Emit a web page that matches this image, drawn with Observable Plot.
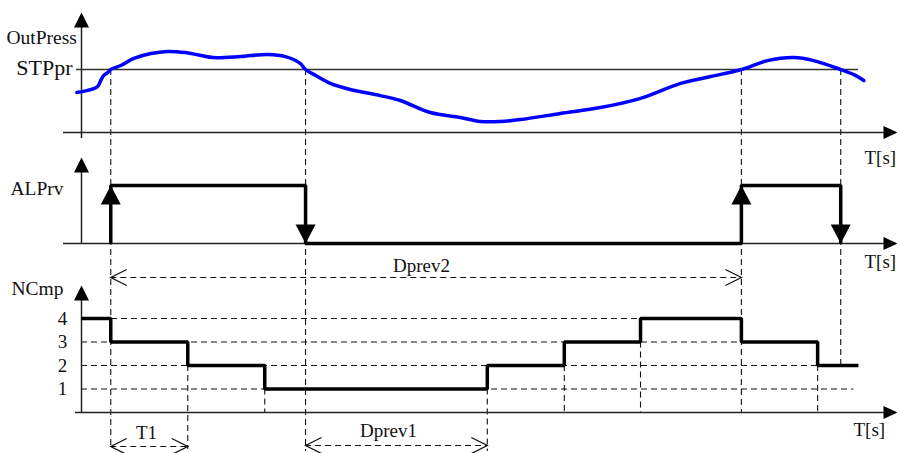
<!DOCTYPE html>
<html><head><meta charset="utf-8">
<script src="https://cdn.jsdelivr.net/npm/d3@7"></script>
<script src="https://cdn.jsdelivr.net/npm/@observablehq/plot@0.6"></script>
<style>html,body{margin:0;padding:0;background:#fff;overflow:hidden}</style>
</head><body><div id="chart"></div>
<script>
// ---------- data ----------
// OutPress curve (time, pressure in relative units)
const pressT = [-0.6, 0.8, 2.1, 2.5, 2.9, 3.4, 3.8, 5.1, 6.8, 9.0, 11.2, 13.5, 15.5, 17.1, 20.6, 24.2, 26.5, 28.4, 29.1, 30.4, 32.3, 34.9, 38.8, 41.4, 45.3, 49.2, 51.8, 54.4, 57.0, 62.2, 67.4, 72.6, 77.8, 81.7, 85.7, 89.1, 92.5, 95.1, 98.6, 100.5, 101.6];
const pressV = [1.70, 1.79, 1.96, 2.21, 2.43, 2.55, 2.68, 2.85, 3.15, 3.36, 3.45, 3.40, 3.28, 3.19, 3.23, 3.32, 3.23, 2.94, 2.68, 2.43, 2.09, 1.83, 1.57, 1.36, 0.85, 0.64, 0.47, 0.47, 0.55, 0.81, 1.06, 1.45, 2.09, 2.38, 2.68, 3.06, 3.19, 3.06, 2.68, 2.43, 2.21];
const STPpr = 2.68;
// ALPrv signal (step-after)
const alprvT = [3.8, 3.8, 29.1, 85.7, 98.6];
const alprvV = [0, 1, 0, 1, 0];
const alprvUp = [3.8, 85.7];
const alprvDown = [29.1, 98.6];
// NCmp compressor count (step-after)
const ncmpT = [0, 3.8, 13.8, 23.8, 52.7, 62.7, 72.6, 85.7, 95.6, 100.9];
const ncmpV = [4, 3, 2, 1, 2, 3, 4, 3, 2, 2];
const ncmpTicks = [1, 2, 3, 4];
const ncmpGridEnd = [100.3, 100.9, 95.6, 85.7];
// intervals
const intervalLabels = ["Dprev2", "T1", "Dprev1"];
const intervalStart = [3.8, 3.8, 29.1];
const intervalEnd = [85.7, 13.8, 52.7];
// labels
const panelLabels = ["OutPress", "STPpr", "ALPrv", "NCmp"];
const axisLabel = "T[s]";

// ---------- layout (pixel -> scale units) ----------
const KX = 7.7, KY = 23.5;
const tx = px => (px - 81) / KX;
const ty = py => (412 - py) / KY;
const P0 = ty(132);          // OutPress baseline
const A0 = ty(243);          // ALPrv baseline
const AH = ty(185) - A0;     // ALPrv high level
const N0 = 0;                // NCmp baseline

const press = pressT.map((t, i) => ({t, v: P0 + pressV[i]}));
const alprv = alprvT.map((t, i) => ({t, v: A0 + alprvV[i] * AH}));
const ncmp = ncmpT.map((t, i) => ({t, v: N0 + ncmpV[i]}));
const grid = ncmpTicks.map((l, i) => ({l, end: ncmpGridEnd[i]}));
const STPy = P0 + STPpr;

const events = [
  {t: 3.8, y1: STPy, y2: ty(449)},
  {t: 13.8, y1: 2, y2: ty(449)},
  {t: 23.8, y1: 1, y2: 0},
  {t: 29.1, y1: STPy, y2: ty(451)},
  {t: 52.7, y1: 1, y2: ty(451)},
  {t: 62.7, y1: 2, y2: 0},
  {t: 72.6, y1: 3, y2: 0},
  {t: 85.7, y1: STPy, y2: 0},
  {t: 95.6, y1: 2, y2: 0},
  {t: 98.6, y1: STPy, y2: 2}
];
const dimY = [ty(277), ty(446), ty(445)];
const dimLabelPos = [[tx(421), ty(265)], [tx(146), ty(432)], [tx(388), ty(430)]];
const dims = intervalLabels.map((label, i) => ({label, t1: intervalStart[i], t2: intervalEnd[i], y: dimY[i], lx: dimLabelPos[i][0], ly: dimLabelPos[i][1]}));

// ---------- custom symbols (tip at the data point) ----------
const tri = (dir, w, h) => ({draw(c) {
  c.moveTo(0, 0);
  if (dir === "up") { c.lineTo(-w/2, h); c.lineTo(w/2, h); }
  else if (dir === "down") { c.lineTo(-w/2, -h); c.lineTo(w/2, -h); }
  else { c.lineTo(-h, -w/2); c.lineTo(-h, w/2); }
  c.closePath();
}});
const chev = (dir, len, half) => ({draw(c) {
  const s = dir === "left" ? 1 : -1;
  c.moveTo(s * len, -half); c.lineTo(0, 0); c.lineTo(s * len, half);
}});

const font = "'Liberation Serif', 'Times New Roman', serif";
const ink = "#111";

const axesH = [{y: P0, x1: tx(63)}, {y: A0, x1: tx(63)}, {y: N0, x1: tx(75)}];
const axesV = [{y1: ty(24), y2: ty(138)}, {y1: ty(168), y2: A0}, {y1: ty(297), y2: N0}];
const axesTop = [ty(12), ty(157), ty(285)];

const textsStart = [
  {x: tx(6), y: ty(37), s: panelLabels[0], f: 19.5},
  {x: tx(864), y: ty(157), s: axisLabel, f: 19},
  {x: tx(864), y: ty(261), s: axisLabel, f: 19},
  {x: tx(853), y: ty(429), s: axisLabel, f: 19}
];
const textsEnd = [
  {x: tx(72), y: ty(67), s: panelLabels[1], f: 22},
  {x: tx(63), y: ty(188), s: panelLabels[2], f: 19.5},
  {x: tx(63), y: ty(288), s: panelLabels[3], f: 19.5}
];

const chart = Plot.plot({
  width: 897, height: 453, margin: 0,
  x: {domain: [tx(0), tx(897)], axis: null},
  y: {domain: [ty(453), ty(0)], axis: null},
  style: {background: "white", fontFamily: font, overflow: "visible"},
  marks: [
    // dashed level grid
    Plot.ruleY(grid, {y: "l", x1: 0, x2: "end", stroke: ink, strokeWidth: 1.1, strokeDasharray: "6,4"}),
    // dashed event markers
    Plot.ruleX(events, {x: "t", y1: "y1", y2: "y2", stroke: ink, strokeWidth: 1.1, strokeDasharray: "6,4"}),
    // axes
    Plot.ruleY(axesH, {y: "y", x1: "x1", x2: tx(886), stroke: "#222", strokeWidth: 1.5}),
    Plot.ruleX(axesV, {x: 0, y1: "y1", y2: "y2", stroke: "#222", strokeWidth: 1.5}),
    Plot.dot(axesTop, {x: 0, y: d => d, symbol: tri("up", 15, 15), fill: "black", stroke: "none"}),
    Plot.dot(axesH, {x: tx(897), y: "y", symbol: tri("right", 13, 14), fill: "black", stroke: "none"}),
    // setpoint
    Plot.ruleY([STPy], {x1: tx(76), x2: tx(858), stroke: "#333", strokeWidth: 1.5}),
    // pressure curve
    Plot.line(press, {x: "t", y: "v", curve: "catmull-rom", stroke: "#0000ff", strokeWidth: 3.5}),
    // ALPrv
    Plot.line(alprv, {x: "t", y: "v", curve: "step-after", stroke: "black", strokeWidth: 3.5, strokeLinejoin: "miter", strokeLinecap: "butt"}),
    Plot.dot(alprvUp, {x: d => d, y: A0 + AH, symbol: tri("up", 20, 19), fill: "black", stroke: "none"}),
    Plot.dot(alprvDown, {x: d => d, y: A0, symbol: tri("down", 20, 19), fill: "black", stroke: "none"}),
    // NCmp
    Plot.line(ncmp, {x: "t", y: "v", curve: "step-after", stroke: "black", strokeWidth: 3.5, strokeLinejoin: "miter", strokeLinecap: "butt"}),
    Plot.text(ncmpTicks, {x: tx(62), y: d => d, text: d => String(d), fontSize: 19, fontFamily: font, fill: ink}),
    // interval dimensions
    Plot.ruleY(dims, {y: "y", x1: "t1", x2: "t2", stroke: ink, strokeWidth: 1.1, strokeDasharray: "6,4"}),
    Plot.dot(dims, {x: "t1", y: "y", symbol: chev("left", 16, 8), fill: "none", stroke: ink, strokeWidth: 1.3}),
    Plot.dot(dims, {x: "t2", y: "y", symbol: chev("right", 16, 8), fill: "none", stroke: ink, strokeWidth: 1.3}),
    Plot.text(dims, {x: "lx", y: "ly", text: "label", fontSize: 19, fontFamily: font, fill: ink}),
    // labels
    Plot.text(textsStart, {x: "x", y: "y", text: "s", textAnchor: "start", fontSize: "f", fontFamily: font, fill: ink}),
    Plot.text(textsEnd, {x: "x", y: "y", text: "s", textAnchor: "end", fontSize: "f", fontFamily: font, fill: ink})
  ]
});
document.getElementById("chart").append(chart);
</script>
</body></html>
